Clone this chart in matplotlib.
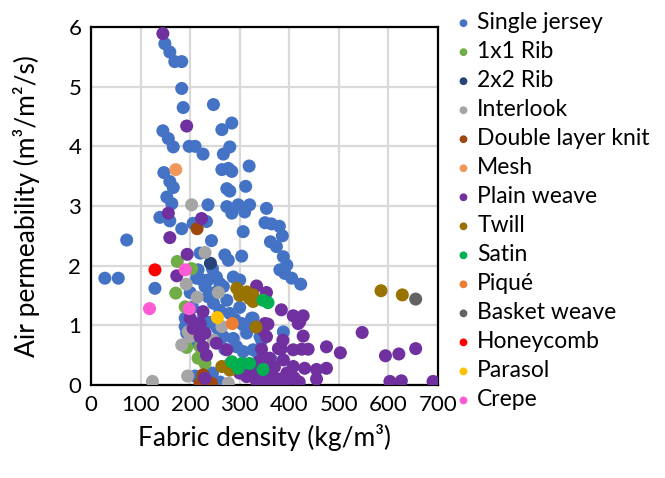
import matplotlib
matplotlib.use("Agg")
import matplotlib.pyplot as plt

plt.rcParams['font.family'] = ['Lato', 'DejaVu Sans']

categories = ["Single jersey", "1x1 Rib", "2x2 Rib", "Interlook", "Double layer knit",
              "Mesh", "Plain weave", "Twill", "Satin", "Piqué", "Basket weave",
              "Honeycomb", "Parasol", "Crepe"]
colors = ["#4472C4", "#70AD47", "#264478", "#A5A5A5", "#9E480E", "#F1975A", "#7030A0",
          "#997300", "#00B050", "#ED7D31", "#636363", "#FF0000", "#FFC000", "#FF5BD5"]

single_jersey_x = [149, 159, 169, 183, 183, 186, 247, 284, 264, 145, 156, 166, 198, 210, 226, 280, 267,
                   147, 159, 166, 153, 163, 264, 277, 284, 319, 312, 274, 280, 320, 354, 351, 364, 380,
                   386, 362, 374, 388, 395, 381, 391, 405, 423, 236, 274, 284, 297, 310, 307, 243, 304,
                   270, 277, 139, 159, 183, 206, 233, 72, 28, 55, 129, 220, 213, 236, 230, 253, 287,
                   300, 267, 236, 274, 247, 307, 327, 314, 347, 341, 190, 193, 190, 267, 287, 294, 307,
                   327, 388, 216, 224, 245, 260, 250, 200, 205, 260, 280, 225, 240, 290, 300, 255, 215,
                   270, 230, 245, 260, 210, 280, 300, 364, 337, 344, 304, 317, 324]
single_jersey_y = [5.72, 5.58, 5.42, 5.42, 4.97, 4.65, 4.70, 4.39, 4.28, 4.26, 4.13, 3.99, 4.00, 4.00,
                   3.87, 3.99, 3.87, 3.56, 3.41, 3.31, 3.15, 3.04, 3.61, 3.63, 3.58, 3.67, 3.33, 3.29,
                   3.25, 3.02, 2.96, 2.72, 2.70, 2.66, 2.50, 2.40, 2.32, 2.15, 2.01, 1.93, 1.87, 1.79,
                   1.69, 3.02, 2.99, 2.88, 3.02, 2.90, 2.57, 2.42, 2.16, 2.18, 2.09, 2.81, 2.75, 2.62,
                   2.71, 2.74, 2.43, 1.79, 1.79, 1.62, 2.21, 1.79, 1.76, 1.65, 1.81, 1.81, 1.76, 1.65,
                   1.48, 1.42, 1.37, 1.01, 1.12, 0.87, 0.98, 0.81, 0.98, 0.87, 1.12, 0.81, 0.78, 0.64,
                   0.56, 0.59, 0.89, 1.93, 1.76, 1.95, 1.70, 1.55, 1.55, 1.30, 1.25, 1.20, 1.10, 1.05,
                   1.10, 1.30, 0.95, 0.70, 0.60, 0.45, 0.20, 0.05, 0.15, 0.35, 0.25, 0.42, 0.53, 0.75,
                   1.03, 0.95, 1.12]

rib1x1_x = [174, 203, 171, 190, 193, 216, 230, 220]
rib1x1_y = [2.07, 1.95, 1.54, 1.31, 0.63, 0.45, 0.36, 0.64]

rib2x2_x = [241]
rib2x2_y = [2.04]

interlook_x = [203, 230, 192, 257, 214, 264, 196, 200, 247, 183, 195, 124, 277]
interlook_y = [3.02, 2.22, 1.69, 1.55, 1.47, 0.98, 0.89, 0.81, 0.75, 0.67, 0.15, 0.06, 0.03]

double_layer_x = [214, 226, 220, 243, 232]
double_layer_y = [2.62, 0.17, 0.03, 0.03, 0.05]

mesh_x = [171]
mesh_y = [3.61]

plain_weave_x = [145, 193, 156, 223, 159, 194, 173, 334, 354, 384, 408, 428, 418, 428, 547, 475, 503,
                 594, 621, 655, 603, 626, 690, 357, 387, 384, 408, 425, 438, 344, 388, 408, 431, 455,
                 475, 455, 421, 378, 351, 226, 200, 220, 206, 230, 220, 253, 274, 226, 233, 230, 314,
                 334, 354, 347, 354, 320, 335, 350, 365, 380, 395, 410, 370, 340, 360, 395, 375, 345,
                 300, 420, 330, 310]
plain_weave_y = [5.89, 4.34, 2.88, 2.79, 2.47, 2.19, 1.83, 1.66, 1.55, 1.26, 1.16, 1.16, 1.03, 0.82,
                 0.88, 0.64, 0.54, 0.49, 0.52, 0.61, 0.06, 0.07, 0.06, 1.02, 0.75, 0.61, 0.59, 0.60,
                 0.60, 0.60, 0.42, 0.31, 0.28, 0.26, 0.28, 0.10, 1.06, 0.61, 1.03, 1.23, 1.12, 1.03,
                 0.95, 0.87, 0.81, 0.70, 0.59, 0.64, 0.50, 0.11, 0.14, 0.06, 0.03, 0.92, 0.81, 0.30,
                 0.25, 0.20, 0.15, 0.10, 0.20, 0.12, 0.30, 0.40, 0.45, 0.05, 0.02, 0.05, 0.20, 0.05,
                 0.15, 0.35]

twill_x = [585, 628, 294, 314, 327, 327, 333, 264, 280, 300, 320]
twill_y = [1.58, 1.51, 1.62, 1.56, 1.51, 1.40, 0.97, 0.31, 0.25, 1.50, 1.45]

satin_x = [347, 357, 284, 297, 304, 320, 347]
satin_y = [1.42, 1.38, 0.39, 0.28, 0.36, 0.36, 0.26]

pique_x = [285]
pique_y = [1.03]

basket_x = [655]
basket_y = [1.44]

honeycomb_x = [129]
honeycomb_y = [1.93]

parasol_x = [255]
parasol_y = [1.13]

crepe_x = [118, 190, 198]
crepe_y = [1.28, 1.93, 1.28]

series_x = [single_jersey_x, rib1x1_x, rib2x2_x, interlook_x, double_layer_x, mesh_x,
            plain_weave_x, twill_x, satin_x, pique_x, basket_x, honeycomb_x, parasol_x, crepe_x]
series_y = [single_jersey_y, rib1x1_y, rib2x2_y, interlook_y, double_layer_y, mesh_y,
            plain_weave_y, twill_y, satin_y, pique_y, basket_y, honeycomb_y, parasol_y, crepe_y]

x_ticks = [0, 100, 200, 300, 400, 500, 600, 700]
y_ticks = [0, 1, 2, 3, 4, 5, 6]

fig = plt.figure(figsize=(6.65, 4.78), dpi=100)
ax = fig.add_axes([91 / 665, 1 - 385 / 478, (438 - 91) / 665, (385 - 27) / 478])

for i, (xs, ys) in enumerate(zip(series_x, series_y)):
    ax.scatter(xs, ys, s=88, color=colors[i], edgecolors='none', label=categories[i],
               zorder=3 + i * 0.01)

ax.set_xlim(0, 700)
ax.set_ylim(0, 6)
ax.set_xticks(x_ticks)
ax.set_yticks(y_ticks)
ax.grid(True, color='#D9D9D9', linewidth=1.6, zorder=0)
ax.set_axisbelow(True)
for sp in ax.spines.values():
    sp.set_color('black')
    sp.set_linewidth(1.6)
ax.tick_params(length=0, labelsize=16, pad=7, colors='#000000')
ax.set_xlabel("Fabric density (kg/m³)", fontsize=19, labelpad=7)
ax.set_ylabel("Air permeability (m³/m²/s)", fontsize=19, labelpad=20)

leg = fig.legend(loc='upper left', bbox_to_anchor=(444 / 665, 1 - 3 / 478), frameon=False,
                 fontsize=16.5, markerscale=0.6, handletextpad=0.15, labelspacing=0.35,
                 borderaxespad=0, handlelength=0.9, scatterpoints=1)

fig.savefig("out.png", dpi=100)
